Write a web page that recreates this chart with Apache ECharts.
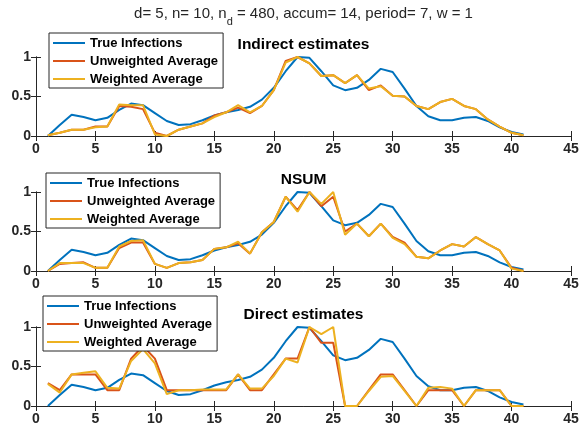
<!DOCTYPE html>
<html>
<head>
<meta charset="utf-8">
<script src="https://cdn.jsdelivr.net/npm/echarts@6/dist/echarts.min.js"></script>
<style>
  html, body { margin: 0; padding: 0; background: #fff; }
  #chart { width: 580px; height: 435px; }
</style>
</head>
<body>
<div id="chart"></div>
<script>
// Days of the outbreak
const days = [1, 2, 3, 4, 5, 6, 7, 8, 9, 10, 11, 12, 13, 14, 15, 16, 17, 18, 19, 20,
  21, 22, 23, 24, 25, 26, 27, 28, 29, 30, 31, 32, 33, 34, 35, 36, 37, 38, 39, 40, 41];

// Normalised true infection curve (same in all panels)
const trueInfections = [0.00, 0.14, 0.27, 0.24, 0.20, 0.23, 0.33, 0.41, 0.39, 0.29,
  0.19, 0.14, 0.15, 0.20, 0.26, 0.30, 0.33, 0.37, 0.46, 0.61,
  0.82, 1.00, 0.99, 0.82, 0.64, 0.58, 0.61, 0.71, 0.85, 0.81,
  0.60, 0.38, 0.25, 0.20, 0.20, 0.23, 0.24, 0.19, 0.11, 0.05, 0.02];

// Indirect estimates
const indirectUnweighted = [0.01, 0.04, 0.08, 0.08, 0.12, 0.12, 0.38, 0.37, 0.34, 0.04,
  0.00, 0.08, 0.12, 0.16, 0.26, 0.30, 0.36, 0.29, 0.38, 0.58,
  0.95, 1.00, 0.92, 0.76, 0.77, 0.67, 0.77, 0.58, 0.64, 0.51,
  0.50, 0.38, 0.34, 0.43, 0.47, 0.38, 0.34, 0.21, 0.12, 0.04, 0.01];
const indirectWeighted = [0.01, 0.04, 0.08, 0.08, 0.11, 0.12, 0.40, 0.39, 0.39, 0.02,
  0.00, 0.08, 0.12, 0.16, 0.24, 0.30, 0.39, 0.30, 0.38, 0.58,
  0.93, 1.00, 0.92, 0.76, 0.77, 0.67, 0.77, 0.60, 0.63, 0.51,
  0.50, 0.38, 0.34, 0.43, 0.47, 0.38, 0.34, 0.21, 0.12, 0.04, 0.01];

// NSUM estimates
const nsumUnweighted = [0.00, 0.09, 0.10, 0.11, 0.04, 0.04, 0.29, 0.36, 0.36, 0.09,
  0.04, 0.10, 0.11, 0.14, 0.28, 0.30, 0.35, 0.22, 0.49, 0.62,
  0.94, 0.77, 1.00, 0.82, 0.94, 0.50, 0.60, 0.44, 0.60, 0.43,
  0.36, 0.18, 0.16, 0.26, 0.34, 0.31, 0.43, 0.34, 0.26, 0.04, 0.00];
const nsumWeighted = [0.00, 0.10, 0.10, 0.10, 0.04, 0.04, 0.31, 0.38, 0.39, 0.09,
  0.04, 0.10, 0.11, 0.14, 0.28, 0.30, 0.37, 0.22, 0.49, 0.62,
  0.94, 0.75, 1.00, 0.85, 1.00, 0.46, 0.60, 0.44, 0.60, 0.42,
  0.34, 0.18, 0.16, 0.26, 0.34, 0.31, 0.43, 0.34, 0.26, 0.03, 0.00];

// Direct estimates
const directUnweighted = [0.29, 0.20, 0.40, 0.40, 0.40, 0.20, 0.20, 0.60, 0.76, 0.60,
  0.20, 0.20, 0.20, 0.20, 0.20, 0.20, 0.40, 0.20, 0.20, 0.40,
  0.60, 0.60, 1.00, 0.80, 0.80, 0.00, 0.00, 0.20, 0.40, 0.40,
  0.20, 0.00, 0.20, 0.20, 0.20, 0.00, 0.20, 0.20, 0.20, 0.00, 0.00];
const directWeighted = [0.28, 0.17, 0.40, 0.42, 0.44, 0.23, 0.22, 0.57, 0.72, 0.54,
  0.15, 0.20, 0.20, 0.21, 0.21, 0.21, 0.40, 0.22, 0.22, 0.38,
  0.60, 0.55, 1.00, 0.91, 1.00, 0.00, 0.00, 0.19, 0.37, 0.38,
  0.19, 0.00, 0.23, 0.24, 0.22, 0.00, 0.20, 0.20, 0.20, 0.00, 0.00];

const panelTitles = ['Indirect estimates', 'NSUM', 'Direct estimates'];
const seriesNames = ['True Infections', 'Unweighted Average', 'Weighted Average'];
const xTicks = [0, 5, 10, 15, 20, 25, 30, 35, 40, 45];
const yTicks = [0, 0.5, 1];

const panels = [
  [trueInfections, indirectUnweighted, indirectWeighted],
  [trueInfections, nsumUnweighted, nsumWeighted],
  [trueInfections, directUnweighted, directWeighted]
];

const colors = ['#0072BD', '#D95319', '#EDB120'];
const axisColor = '#262626';
const fontFamily = '"Liberation Sans", Arial, Helvetica, sans-serif';

const gridTops = [57, 192, 327];
const gridHeight = 79;
const gridLeft = 36;
const gridWidth = 535;
const centerX = gridLeft + gridWidth / 2;

const grids = [], xAxes = [], yAxes = [], series = [], legends = [], titles = [];

const xMin = xTicks[0], xMax = xTicks[xTicks.length - 1], xStep = xTicks[1] - xTicks[0];
const yMin = yTicks[0], yMax = yTicks[yTicks.length - 1], yStep = yTicks[1] - yTicks[0];

function axisBase(gridIndex, position, showLabel, isX) {
  return {
    type: 'value',
    gridIndex: gridIndex,
    position: position,
    min: isX ? xMin : yMin,
    max: isX ? xMax : yMax,
    interval: isX ? xStep : yStep,
    axisLine: { show: true, lineStyle: { color: axisColor, width: 1 } },
    axisTick: { show: true, inside: true, length: 5, lineStyle: { color: axisColor, width: 1 } },
    splitLine: { show: false },
    axisLabel: {
      show: showLabel,
      color: axisColor,
      fontFamily: fontFamily,
      fontWeight: 'bold',
      fontSize: 14,
      margin: isX ? 6 : 5,
      showMinLabel: true,
      showMaxLabel: true,
      formatter: function (v) { return String(v); }
    }
  };
}

panels.forEach(function (panel, i) {
  grids.push({
    left: gridLeft, top: gridTops[i], width: gridWidth, height: gridHeight,
    containLabel: false, outerBoundsMode: 'none', show: false
  });
  xAxes.push(axisBase(i, 'bottom', true, true));
  xAxes.push(axisBase(i, 'top', false, true));
  yAxes.push(axisBase(i, 'left', true, false));
  yAxes.push(axisBase(i, 'right', false, false));

  panel.forEach(function (values, k) {
    series.push({
      name: seriesNames[k],
      type: 'line',
      xAxisIndex: 2 * i,
      yAxisIndex: 2 * i,
      data: days.map(function (d, j) { return [d, values[j]]; }),
      showSymbol: false,
      symbol: 'none',
      lineStyle: { color: colors[k], width: 2 },
      itemStyle: { color: colors[k] },
      z: 2 + k,
      animation: false
    });
  });

  titles.push({
    text: panelTitles[i],
    left: centerX,
    textAlign: 'center',
    top: gridTops[i] - 21,
    padding: 0,
    textStyle: {
      fontFamily: fontFamily, fontWeight: 'bold', fontSize: 15.5,
      color: '#000', lineHeight: 18
    }
  });
});

const legendLefts = [49, 46, 43];
const legendTops = [33, 173, 296];
legendLefts.forEach(function (lx, i) {
  legends.push({
    data: seriesNames,
    orient: 'vertical',
    left: lx,
    top: legendTops[i],
    icon: 'rect',
    itemWidth: 32,
    itemHeight: 2,
    itemGap: 0,
    padding: [1, 5, 0, 4],
    backgroundColor: '#fff',
    borderColor: axisColor,
    borderWidth: 1,
    borderRadius: 0,
    selectedMode: false,
    z: 10,
    textStyle: {
      fontFamily: fontFamily, fontWeight: 'bold', fontSize: 13,
      color: '#000', lineHeight: 18
    }
  });
});

// Figure-wide heading with a subscript
titles.push({
  text: '{t|d= 5, n= 10, n}{s|d}{t| = 480, accum= 14, period= 7, w = 1}',
  left: centerX,
  textAlign: 'center',
  top: 6,
  padding: 0,
  textStyle: {
    fontWeight: 'normal',
    rich: {
      t: { fontFamily: fontFamily, fontSize: 15, fontWeight: 'normal', color: axisColor, lineHeight: 16, verticalAlign: 'top' },
      s: { fontFamily: fontFamily, fontSize: 11, fontWeight: 'normal', color: axisColor, lineHeight: 10, padding: [10, 0, 0, 0], verticalAlign: 'top' }
    }
  }
});

const chart = echarts.init(document.getElementById('chart'), null, { renderer: 'canvas' });
chart.setOption({
  animation: false,
  backgroundColor: '#fff',
  title: titles,
  legend: legends,
  grid: grids,
  xAxis: xAxes,
  yAxis: yAxes,
  series: series
});
</script>
</body>
</html>
